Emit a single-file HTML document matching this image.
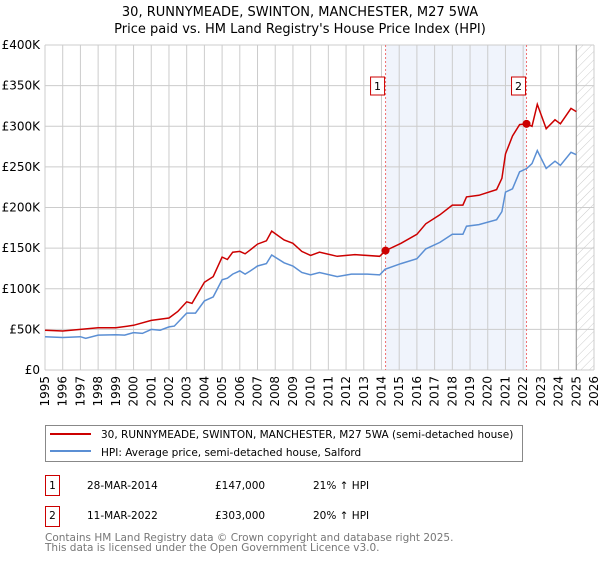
<!DOCTYPE html>
<html><head><meta charset="utf-8"><style>
body{margin:0;background:#fff;font-family:"DejaVu Sans","Liberation Sans",sans-serif;}
svg text{font-family:"DejaVu Sans","Liberation Sans",sans-serif;}
</style></head><body>
<svg id="c" width="600" height="560" xmlns="http://www.w3.org/2000/svg">
<defs><pattern id="hatch" width="6" height="6" patternUnits="userSpaceOnUse" patternTransform="rotate(45)"><line x1="0" y1="0" x2="0" y2="6" stroke="#ccc" stroke-width="1"/></pattern></defs>
<text x="300" y="16" text-anchor="middle" font-size="13">30, RUNNYMEADE, SWINTON, MANCHESTER, M27 5WA</text>
<text x="300" y="33" text-anchor="middle" font-size="13">Price paid vs. HM Land Registry's House Price Index (HPI)</text>
<g id="grid"></g><g id="series"></g><g id="axes"></g>
<rect x="45.5" y="425.5" width="477" height="36" fill="#fff" stroke="#888"/>
<line x1="50" y1="434" x2="91" y2="434" stroke="#cc0000" stroke-width="2"/>
<text x="101" y="438" font-size="10.5">30, RUNNYMEADE, SWINTON, MANCHESTER, M27 5WA (semi-detached house)</text>
<line x1="50" y1="451" x2="91" y2="451" stroke="#5b8fd4" stroke-width="2"/>
<text x="101" y="456" font-size="10.5">HPI: Average price, semi-detached house, Salford</text>
<g font-size="10.5">
<rect x="45.5" y="475.5" width="14" height="20" fill="#fff" stroke="#cc0000"/><text x="52.5" y="489" text-anchor="middle">1</text>
<text x="87" y="489">28-MAR-2014</text><text x="215" y="489">£147,000</text><text x="313" y="489">21% ↑ HPI</text></g>
<g font-size="10.5">
<rect x="45.5" y="506.5" width="14" height="20" fill="#fff" stroke="#cc0000"/><text x="52.5" y="519" text-anchor="middle">2</text>
<text x="87" y="519">11-MAR-2022</text><text x="215" y="519">£303,000</text><text x="313" y="519">20% ↑ HPI</text></g>
<text x="45" y="541" font-size="10.5" fill="#777">Contains HM Land Registry data © Crown copyright and database right 2025.</text>
<text x="45" y="551" font-size="10.5" fill="#777">This data is licensed under the Open Government Licence v3.0.</text>
</svg>
<script>
const hpiYears=[1995,1996,1997,1997.3,1998,1999,1999.5,2000,2000.5,2001,2001.5,2002,2002.3,2003,2003.5,2004,2004.5,2005,2005.3,2005.6,2006,2006.3,2006.6,2007,2007.5,2007.8,2008.5,2009,2009.5,2010,2010.5,2011.5,2012.3,2013.2,2013.9,2014.2,2015.1,2016,2016.5,2017.3,2018,2018.6,2018.8,2019.5,2020.5,2020.8,2021,2021.4,2021.8,2022.2,2022.5,2022.8,2023.3,2023.8,2024.1,2024.7,2025.0];
const hpiValues=[41,40,41,39,43,43.5,43,46,45,50,49,53,54,70,70,85,90,111,113,118,122,118,122,128,131,141.5,132,128,120,117,120,115,118,118,117,124,131,137,149,157,167,167,177,179,185,195,219,223,244,248,254,270,248,257,252,268,265];
const propYears=[1995,1996,1997,1998,1999,2000,2001,2002,2002.5,2003,2003.3,2004,2004.5,2005,2005.3,2005.6,2006,2006.3,2006.6,2007,2007.5,2007.8,2008.5,2009,2009.5,2010,2010.5,2011.5,2012.5,2013.9,2014.23,2015.1,2016,2016.5,2017.3,2018,2018.6,2018.8,2019.5,2020.5,2020.8,2021,2021.4,2021.8,2022.19,2022.5,2022.8,2023.3,2023.8,2024.1,2024.7,2025.0];
const propValues=[49,48,50,52,52,55,61,64,72,84,82,108,115,139,136,145,146,143,148,155,159,171,160,156,146,141,145,140,142,140,147,156,167,180,191,203,203,213,215,222,236,266,288,302,303,300,327,297,308,303,322,318];
const sales=[{n:"1",year:2014.23,value:147},{n:"2",year:2022.19,value:303}];
const yTicks=[0,50,100,150,200,250,300,350,400];
const yLabels=["£0","£50K","£100K","£150K","£200K","£250K","£300K","£350K","£400K"];
const xTicks=[1995,1996,1997,1998,1999,2000,2001,2002,2003,2004,2005,2006,2007,2008,2009,2010,2011,2012,2013,2014,2015,2016,2017,2018,2019,2020,2021,2022,2023,2024,2025,2026];
const X0=45,X1=594,Y0=370,Y1=45;
const xs=y=>X0+(y-1995)/(2026-1995)*(X1-X0);
const ys=v=>Y0-v/400*(Y0-Y1);
const NS="http://www.w3.org/2000/svg";
function mk(p,t,a){const e=document.createElementNS(NS,t);for(const k in a)e.setAttribute(k,a[k]);p.appendChild(e);return e;}
const grid=document.getElementById('grid'),ser=document.getElementById('series'),ax=document.getElementById('axes');
let sh=mk(grid,'rect',{x:xs(2014.23),y:Y1,width:xs(2022.19)-xs(2014.23),height:Y0-Y1,fill:'#f0f4fc'});


let ht=mk(grid,'rect',{x:xs(2025.0),y:Y1,width:X1-xs(2025.0),height:Y0-Y1,fill:'url(#hatch)'});


yTicks.forEach((v,i)=>{
 let l=mk(grid,'line',{x1:X0,x2:X1,y1:ys(v),y2:ys(v),stroke:'#ccc'});
 
 
 let t=mk(ax,'text',{x:X0-5,y:ys(v)+4,'text-anchor':'end','font-size':'12'});t.textContent=yLabels[i];
 
 
});
xTicks.forEach(y=>{
 let l=mk(grid,'line',{x1:xs(y),x2:xs(y),y1:Y1,y2:Y0,stroke:'#ccc'});
 
 
 let t=mk(ax,'text',{x:0,y:0,'text-anchor':'end','font-size':'12',transform:`translate(${xs(y)+4},376) rotate(-90)`});t.textContent=y;
 
 
});
let vl=mk(grid,'line',{x1:xs(2025.0),x2:xs(2025.0),y1:Y1,y2:Y0,stroke:'#999'});


sales.forEach(s=>{
 let l=mk(grid,'line',{x1:xs(s.year),x2:xs(s.year),y1:Y1,y2:Y0,stroke:'#f07070','stroke-dasharray':'2,2'});
 
 
});
const pts=(xa,va)=>xa.map((y,i)=>xs(y).toFixed(1)+','+ys(va[i]).toFixed(1)).join(' ');
let hp=mk(ser,'polyline',{points:pts(hpiYears,hpiValues),fill:'none',stroke:'#5b8fd4','stroke-width':1.5});


let pp=mk(ser,'polyline',{points:pts(propYears,propValues),fill:'none',stroke:'#cc0000','stroke-width':1.5});


sales.forEach(s=>{
 let c=mk(ser,'circle',{cx:xs(s.year),cy:ys(s.value),r:4,fill:'#cc0000'});
 
 
 let b=mk(ser,'rect',{x:xs(s.year)-15,y:77,width:14,height:18,fill:'#fff',stroke:'#cc0000'});
 
 
 let t=mk(ser,'text',{x:xs(s.year)-8,y:90,'text-anchor':'middle','font-size':'11'});t.textContent=s.n;
 
 
});
</script>
</body></html>
